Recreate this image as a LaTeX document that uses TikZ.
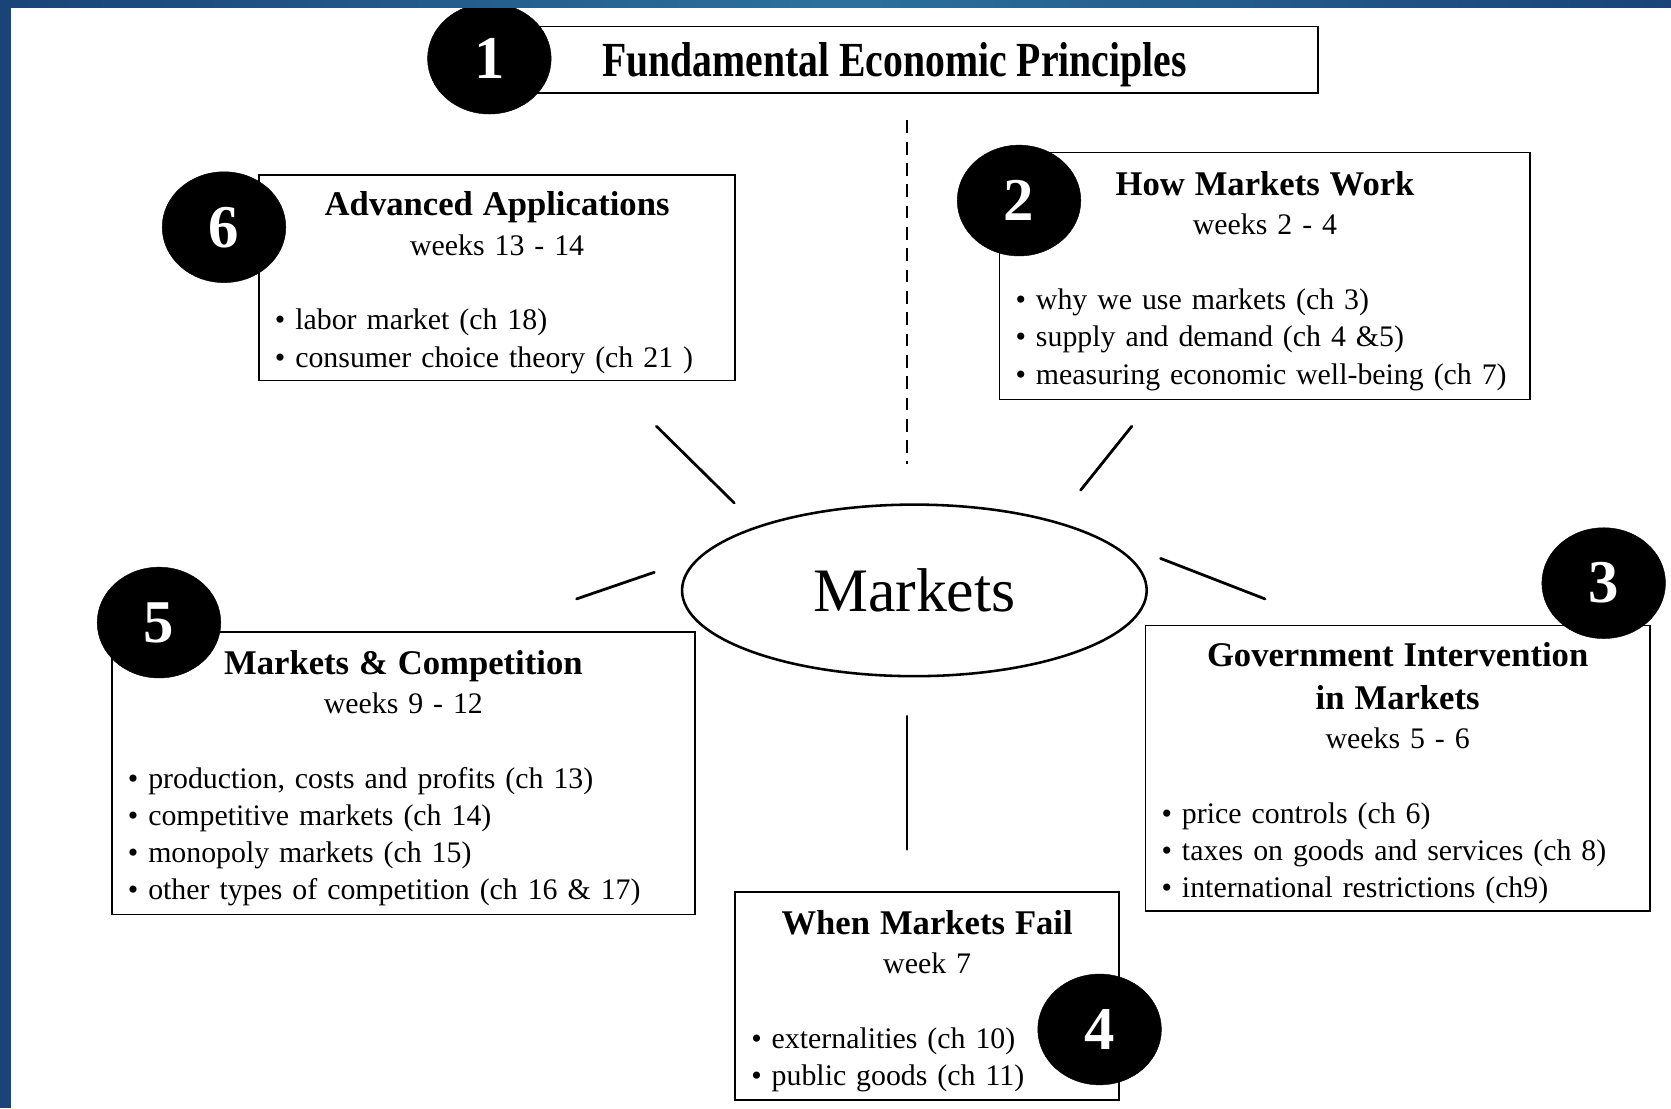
\documentclass[tikz,border=0pt]{standalone}
\usepackage{fontspec}
\setmainfont{Liberation Serif}
\newfontfamily\condensedfont{Liberation Serif}[FakeStretch=0.81]
\usetikzlibrary{
  calc,
  shapes.geometric}

\definecolor{FrameNavy}{HTML}{1A4477}
\definecolor{FrameSteel}{HTML}{2C719D}

\tikzset{
  module/.style={%
    fill=white,
    draw=black, line width=1.6pt,
    % Bullets start 15pt in from the left edge of every box.
    inner xsep=15pt, inner ysep=4pt,
    font=\fontsize{28}{35}\selectfont,
    execute at begin node={\setlength{\parindent}{0pt}}
  },
  badge/.style={%
    shape=ellipse,
    fill=black, draw=black,
    text=white, inner sep=0pt,
    minimum width=116pt, minimum height=104pt,
    font=\fontsize{57}{57}\selectfont\bfseries
  },
  hub/.style={%
    shape=ellipse,
    fill=white, draw=black, line width=2.4pt,
    minimum width=436pt, minimum height=161pt,
    font=\fontsize{58}{60}\selectfont
  },
  spoke/.style={%
    line width=2.6pt, line cap=round
  },
  guide/.style={%
    line width=1.5pt, dash pattern=on 12pt off 8pt
  }%
}

% Pieces of text inside a module box. The strut pushes the text
% a little lower in its box.
\newcommand{\modtitle}[1]{{\centering\fontsize{32.5}{40}\selectfont\bfseries
  \rule{0pt}{32pt}#1\par}}
\newcommand{\modweeks}[1]{\vspace{2pt}{\centering #1\par}\vspace{35pt}}
\newcommand{\modbullet}[1]{\mbox{\textbullet~#1}\par}

\begin{document}
\begin{tikzpicture}[x=1pt, y=-1pt]

% One unit is one pixel of the slide, y grows downwards.
\useasboundingbox (0,0) rectangle (1568,1040);

% Top box, the course title.
\node[module, minimum width=740pt, minimum height=62pt, text width=710pt,
  text depth=0pt]
  (principles) at (867,56)
  {\hspace*{53pt}\condensedfont\bfseries\fontsize{46}{50}\selectfont
    Fundamental Economic Principles};

\node[module, minimum width=447pt, minimum height=193pt, text width=417pt]
  (advanced) at (466.5,260.5) {%
  \modtitle{Advanced Applications}
  \modweeks{weeks 13 - 14}
  \modbullet{labor market (ch 18)}
  \modbullet{consumer choice theory (ch 21 )}};

\node[module, minimum width=498pt, minimum height=232pt, text width=468pt]
  (howWork) at (1187,259) {%
  \modtitle{How Markets Work}
  \modweeks{weeks 2 - 4}
  \modbullet{why we use markets (ch 3)}
  \modbullet{supply and demand (ch 4 \&5)}
  \modbullet{measuring economic well-being (ch 7)}};

\node[module, minimum width=547pt, minimum height=265pt, text width=517pt]
  (competition) at (378.5,725.5) {%
  \modtitle{Markets \& Competition}
  \modweeks{weeks 9 - 12}
  \modbullet{production, costs and profits (ch 13)}
  \modbullet{competitive markets (ch 14)}
  \modbullet{monopoly markets (ch 15)}
  \modbullet{other types of competition (ch 16 \& 17)}};

\node[module, minimum width=473pt, minimum height=268pt, text width=443pt]
  (intervention) at (1311.5,721) {%
  \modtitle{Government Intervention\\in Markets}
  \modweeks{weeks 5 - 6}
  \modbullet{price controls (ch 6)}
  \modbullet{taxes on goods and services (ch 8)}
  \modbullet{international restrictions (ch9)}};

\node[module, minimum width=360pt, minimum height=195pt, text width=330pt]
  (failures) at (870,934.5) {%
  \modtitle{When Markets Fail}
  \modweeks{week 7}
  \modbullet{externalities (ch 10)}
  \modbullet{public goods (ch 11)}};

% The hub in the middle.
\node[hub] (markets) at (858,554) {Markets};

% Free ends of the spokes round the hub.
\coordinate (spokeNWin)  at ($(markets)+(-169,-82)$);
\coordinate (spokeNWout) at ($(markets)+(-242,-154)$);
\coordinate (spokeNEin)  at ($(markets)+(156,-94)$);
\coordinate (spokeNEout) at ($(markets)+(204,-154)$);
\coordinate (spokeWin)   at ($(markets)+(-244,-17)$);
\coordinate (spokeWout)  at ($(markets)+(-317,8)$);
\coordinate (spokeEin)   at ($(markets)+(231,-30)$);
\coordinate (spokeEout)  at ($(markets)+(329,8)$);
\coordinate (spokeSin)   at ($(markets)+(-7,118)$);
\coordinate (spokeSout)  at ($(markets)+(-7,243)$);
\coordinate (guideTop)    at (851,113);
\coordinate (guideBottom) at (851,435);

\draw[spoke] (spokeNWin)--(spokeNWout);
\draw[spoke] (spokeNEin)--(spokeNEout);
\draw[spoke] (spokeWin)--(spokeWout);
\draw[spoke] (spokeEin)--(spokeEout);
\draw[spoke] (spokeSin)--(spokeSout);
\draw[guide] (guideTop)--(guideBottom);

% Numbered badges sit on the box corners.
\node[badge] (badgeOne)   at ($(principles.west)+(-37,-1)$) {1};
\node[badge] (badgeTwo)   at ($(howWork.north west)+(19,46)$) {2};
\node[badge] (badgeThree) at ($(intervention.north east)+(-44,-39)$) {3};
\node[badge] (badgeFour)  at ($(failures.east)+(-19,31.5)$) {4};
\node[badge] (badgeFive)  at ($(competition.north west)+(45,-8)$) {5};
\node[badge] (badgeSix)   at ($(advanced.north west)+(-32,50)$) {6};

% Slide frame, top and left.
\shade[left color=FrameNavy, right color=FrameNavy, middle color=FrameSteel]
  (0,0) rectangle (1568,7);
\fill[FrameNavy] (0,0) rectangle (10,1040);

\end{tikzpicture}
\end{document}
